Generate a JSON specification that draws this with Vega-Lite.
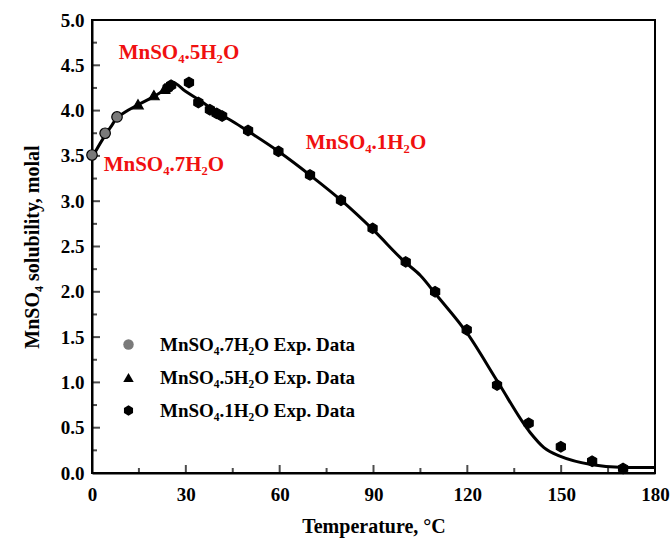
{
  "$schema": "https://vega.github.io/schema/vega-lite/v6.json",
  "width": 563,
  "height": 453,
  "autosize": "none",
  "padding": {"left": 92, "top": 20, "right": 15, "bottom": 68},
  "background": "white",
  "config": {
    "view": {"stroke": "black", "strokeWidth": 2},
    "font": "Liberation Serif",
    "axis": {
      "domainColor": "black", "domainWidth": 2, "ticks": false, "tickSize": 0,
      "labelFont": "Liberation Serif", "labelFontWeight": "bold", "labelFontSize": 19, "labelColor": "black",
      "titleFont": "Liberation Serif", "titleFontWeight": "bold", "titleFontSize": 20, "titleColor": "black",
      "grid": false
    }
  },
  "datasets": {
    "curve": [
      {"T": 0, "m": 3.48}, {"T": 3, "m": 3.66}, {"T": 6, "m": 3.82}, {"T": 8, "m": 3.92},
      {"T": 10, "m": 3.97}, {"T": 15, "m": 4.07}, {"T": 20, "m": 4.16}, {"T": 24, "m": 4.25},
      {"T": 25.8, "m": 4.31}, {"T": 30, "m": 4.21}, {"T": 35, "m": 4.1}, {"T": 40, "m": 3.98},
      {"T": 45, "m": 3.88}, {"T": 50, "m": 3.77}, {"T": 60, "m": 3.54}, {"T": 70, "m": 3.28},
      {"T": 80, "m": 3.0}, {"T": 90, "m": 2.68}, {"T": 100, "m": 2.33}, {"T": 105, "m": 2.18},
      {"T": 110, "m": 1.97}, {"T": 120, "m": 1.54}, {"T": 130, "m": 0.99}, {"T": 140, "m": 0.45},
      {"T": 144.5, "m": 0.28}, {"T": 150, "m": 0.18}, {"T": 160, "m": 0.09}, {"T": 170, "m": 0.06},
      {"T": 180, "m": 0.06}
    ],
    "exp": [
      {"T": 0, "m": 3.51, "s": "MnSO₄.7H₂O Exp. Data"},
      {"T": 4.2, "m": 3.75, "s": "MnSO₄.7H₂O Exp. Data"},
      {"T": 8, "m": 3.93, "s": "MnSO₄.7H₂O Exp. Data"},
      {"T": 14.7, "m": 4.07, "s": "MnSO₄.5H₂O Exp. Data"},
      {"T": 19.8, "m": 4.17, "s": "MnSO₄.5H₂O Exp. Data"},
      {"T": 23.2, "m": 4.24, "s": "MnSO₄.5H₂O Exp. Data"},
      {"T": 24.2, "m": 4.25, "s": "MnSO₄.1H₂O Exp. Data"},
      {"T": 25.3, "m": 4.28, "s": "MnSO₄.1H₂O Exp. Data"},
      {"T": 31, "m": 4.31, "s": "MnSO₄.1H₂O Exp. Data"},
      {"T": 34, "m": 4.09, "s": "MnSO₄.1H₂O Exp. Data"},
      {"T": 37.7, "m": 4.01, "s": "MnSO₄.1H₂O Exp. Data"},
      {"T": 39.8, "m": 3.97, "s": "MnSO₄.1H₂O Exp. Data"},
      {"T": 41.6, "m": 3.94, "s": "MnSO₄.1H₂O Exp. Data"},
      {"T": 49.9, "m": 3.78, "s": "MnSO₄.1H₂O Exp. Data"},
      {"T": 59.6, "m": 3.55, "s": "MnSO₄.1H₂O Exp. Data"},
      {"T": 69.7, "m": 3.29, "s": "MnSO₄.1H₂O Exp. Data"},
      {"T": 79.6, "m": 3.01, "s": "MnSO₄.1H₂O Exp. Data"},
      {"T": 89.7, "m": 2.7, "s": "MnSO₄.1H₂O Exp. Data"},
      {"T": 100.3, "m": 2.33, "s": "MnSO₄.1H₂O Exp. Data"},
      {"T": 109.7, "m": 2.0, "s": "MnSO₄.1H₂O Exp. Data"},
      {"T": 119.8, "m": 1.58, "s": "MnSO₄.1H₂O Exp. Data"},
      {"T": 129.5, "m": 0.97, "s": "MnSO₄.1H₂O Exp. Data"},
      {"T": 139.6, "m": 0.55, "s": "MnSO₄.1H₂O Exp. Data"},
      {"T": 149.9, "m": 0.29, "s": "MnSO₄.1H₂O Exp. Data"},
      {"T": 159.9, "m": 0.13, "s": "MnSO₄.1H₂O Exp. Data"},
      {"T": 169.8, "m": 0.05, "s": "MnSO₄.1H₂O Exp. Data"}
    ],
    "labels": [
      {"T": 27.8, "m": 4.64, "t": "MnSO₄.5H₂O"},
      {"T": 23, "m": 3.4, "t": "MnSO₄.7H₂O"},
      {"T": 87.6, "m": 3.64, "t": "MnSO₄.1H₂O"}
    ],
    "xmajor": [{"T": 30}, {"T": 60}, {"T": 90}, {"T": 120}, {"T": 150}],
    "xminor": [{"T": 15}, {"T": 45}, {"T": 75}, {"T": 105}, {"T": 135}, {"T": 165}],
    "ymajor": [{"m": 0.5}, {"m": 1}, {"m": 1.5}, {"m": 2}, {"m": 2.5}, {"m": 3}, {"m": 3.5}, {"m": 4}, {"m": 4.5}],
    "yminor": [{"m": 0.25}, {"m": 0.75}, {"m": 1.25}, {"m": 1.75}, {"m": 2.25}, {"m": 2.75}, {"m": 3.25}, {"m": 3.75}, {"m": 4.25}, {"m": 4.75}]
  },
  "layer": [
    {
      "data": {"name": "curve"},
      "mark": {"type": "line", "color": "black", "strokeWidth": 3, "interpolate": "monotone"},
      "encoding": {
        "x": {"field": "T", "type": "quantitative", "scale": {"domain": [0, 180], "nice": false},
          "axis": {"title": "Temperature, °C", "values": [0,30,60,90,120,150,180],
            "labelPadding": 12, "titlePadding": 12, "labelFlush": false}},
        "y": {"field": "m", "type": "quantitative", "scale": {"domain": [0, 5], "nice": false},
          "axis": {"title": "MnSO₄ solubility, molal", "values": [0,0.5,1,1.5,2,2.5,3,3.5,4,4.5,5],
            "format": ".1f", "labelPadding": 8, "titlePadding": 18}}
      }
    },
    {
      "data": {"name": "xmajor"},
      "mark": {"type": "tick", "orient": "vertical", "color": "black", "size": 8, "thickness": 2, "yOffset": -4},
      "encoding": {"x": {"field": "T", "type": "quantitative"}, "y": {"datum": 0}}
    },
    {
      "data": {"name": "xminor"},
      "mark": {"type": "tick", "orient": "vertical", "color": "black", "size": 5, "thickness": 2, "yOffset": -2.5},
      "encoding": {"x": {"field": "T", "type": "quantitative"}, "y": {"datum": 0}}
    },
    {
      "data": {"name": "ymajor"},
      "mark": {"type": "tick", "orient": "horizontal", "color": "black", "size": 8, "thickness": 2, "xOffset": 4},
      "encoding": {"y": {"field": "m", "type": "quantitative"}, "x": {"datum": 0}}
    },
    {
      "data": {"name": "yminor"},
      "mark": {"type": "tick", "orient": "horizontal", "color": "black", "size": 5, "thickness": 2, "xOffset": 2.5},
      "encoding": {"y": {"field": "m", "type": "quantitative"}, "x": {"datum": 0}}
    },
    {
      "data": {"name": "exp"},
      "mark": {"type": "point", "filled": true, "opacity": 1, "strokeWidth": 1.2},
      "encoding": {
        "x": {"field": "T", "type": "quantitative"},
        "y": {"field": "m", "type": "quantitative"},
        "shape": {"field": "s", "type": "nominal",
          "scale": {"domain": ["MnSO₄.7H₂O Exp. Data", "MnSO₄.5H₂O Exp. Data", "MnSO₄.1H₂O Exp. Data"],
            "range": ["circle", "triangle-up", "M0,-1L0.866,-0.5L0.866,0.5L0,1L-0.866,0.5L-0.866,-0.5Z"]},
          "legend": {"title": null, "orient": "none", "legendX": 27, "legendY": 315,
            "labelFont": "Liberation Serif", "labelFontWeight": "bold", "labelFontSize": 19, "labelColor": "black", "labelLimit": 0,
            "symbolSize": 110, "rowPadding": 13, "labelOffset": 22, "symbolStrokeColor": "black", "symbolStrokeWidth": 1.2}},
        "fill": {"field": "s", "type": "nominal",
          "scale": {"domain": ["MnSO₄.7H₂O Exp. Data", "MnSO₄.5H₂O Exp. Data", "MnSO₄.1H₂O Exp. Data"],
            "range": ["#7a7a7a", "black", "black"]}},
        "stroke": {"value": "black"},
        "size": {"value": 110}
      }
    },
    {
      "data": {"name": "labels"},
      "mark": {"type": "text", "color": "#f01010", "font": "Liberation Serif", "fontWeight": "bold", "fontSize": 21},
      "encoding": {
        "x": {"field": "T", "type": "quantitative"},
        "y": {"field": "m", "type": "quantitative"},
        "text": {"field": "t"}
      }
    }
  ]
}
